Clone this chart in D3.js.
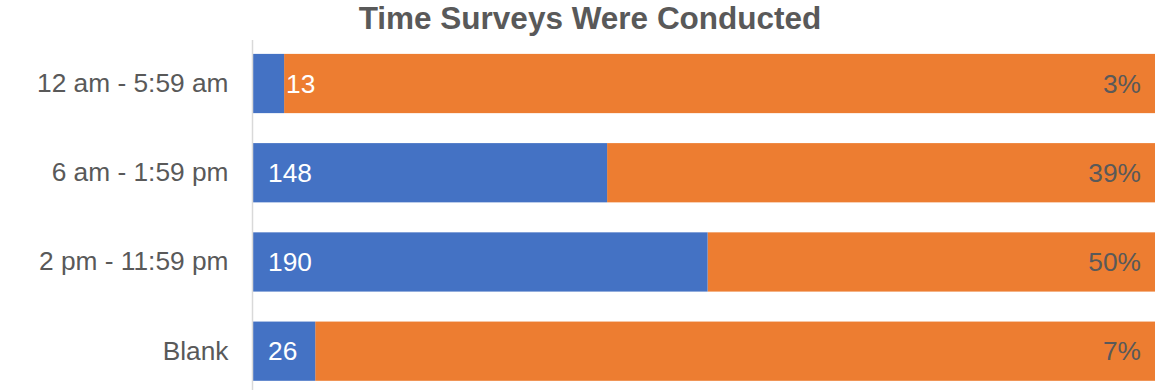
<!DOCTYPE html>
<html>
<head>
<meta charset="utf-8">
<script src="https://cdn.jsdelivr.net/npm/d3@7"></script>
<style>
  body { margin: 0; background: #fff; }
  svg { display: block; font-family: "Liberation Sans", Arial, sans-serif; }
</style>
</head>
<body>
<div class="container"></div>
<script>
var categories = ["12 am - 5:59 am", "6 am - 1:59 pm", "2 pm - 11:59 pm", "Blank"];
var counts = [13, 148, 190, 26];
var percentLabels = ["3%", "39%", "50%", "7%"];

const WIDTH = 1155;
const HEIGHT = 390;
const LEFT = 253;
const FONT = 26.3;

var total = d3.sum(counts);

var rows = categories.map(function(c, i){
  return {cat: c, count: counts[i], pct: percentLabels[i]};
});

var translate = function(x, y){
  return "translate(" + x + "," + y + ")";
};

var _xScale = d3.scaleLinear()
  .domain([0, total])
  .range([LEFT, WIDTH]);

var _yScale = d3.scaleBand()
  .domain(categories)
  .range([38.9, 395.8])
  .paddingInner(0.336)
  .paddingOuter(0.168);

var svg = d3.select('.container').append('svg')
  .attr('width', WIDTH)
  .attr('height', HEIGHT);

// title
svg.append('text')
  .attr('x', 590)
  .attr('y', 28.5)
  .attr('text-anchor', 'middle')
  .attr('font-size', 31.5)
  .attr('font-weight', 'bold')
  .attr('fill', '#595959')
  .text('Time Surveys Were Conducted');

// orange remainder
svg.selectAll('rect.rest').data(rows)
  .enter().append('rect')
  .attr('class', 'rest')
  .attr('x', function(d){ return _xScale(d.count); })
  .attr('y', function(d){ return _yScale(d.cat); })
  .attr('width', function(d){ return _xScale(total) - _xScale(d.count); })
  .attr('height', _yScale.bandwidth())
  .attr('fill', '#ED7D31');

// blue counts
svg.selectAll('rect.count').data(rows)
  .enter().append('rect')
  .attr('class', 'count')
  .attr('x', _xScale(0))
  .attr('y', function(d){ return _yScale(d.cat); })
  .attr('width', function(d){ return _xScale(d.count) - _xScale(0); })
  .attr('height', _yScale.bandwidth())
  .attr('fill', '#4472C4');

// category labels
var yAxis = d3.axisLeft(_yScale).tickSize(0).tickPadding(24);
var gy = svg.append('g')
  .attr('transform', translate(LEFT - 0.5, 0))
  .call(yAxis);
gy.select('.domain').remove();
gy.selectAll('text')
  .attr('font-size', FONT)
  .attr('font-family', '"Liberation Sans", Arial, sans-serif')
  .attr('fill', '#595959');

// axis line
svg.append('line')
  .attr('x1', LEFT - 0.5).attr('x2', LEFT - 0.5)
  .attr('y1', 40).attr('y2', HEIGHT)
  .attr('stroke', '#d9d9d9')
  .attr('stroke-width', 1.5);

// count labels
svg.selectAll('text.count').data(rows)
  .enter().append('text')
  .attr('class', 'count')
  .attr('x', function(d){
    var w = _xScale(d.count) - _xScale(0);
    return w < 50 ? _xScale(d.count) + 2 : _xScale(0) + 15;
  })
  .attr('y', function(d){ return _yScale(d.cat) + _yScale.bandwidth() / 2; })
  .attr('dy', '0.35em')
  .attr('font-size', FONT)
  .attr('fill', '#fff')
  .text(function(d){ return d.count; });

// percent labels
svg.selectAll('text.pct').data(rows)
  .enter().append('text')
  .attr('class', 'pct')
  .attr('x', _xScale(total) - 14)
  .attr('y', function(d){ return _yScale(d.cat) + _yScale.bandwidth() / 2; })
  .attr('dy', '0.35em')
  .attr('text-anchor', 'end')
  .attr('font-size', FONT)
  .attr('fill', '#595959')
  .text(function(d){ return d.pct; });
</script>
</body>
</html>
